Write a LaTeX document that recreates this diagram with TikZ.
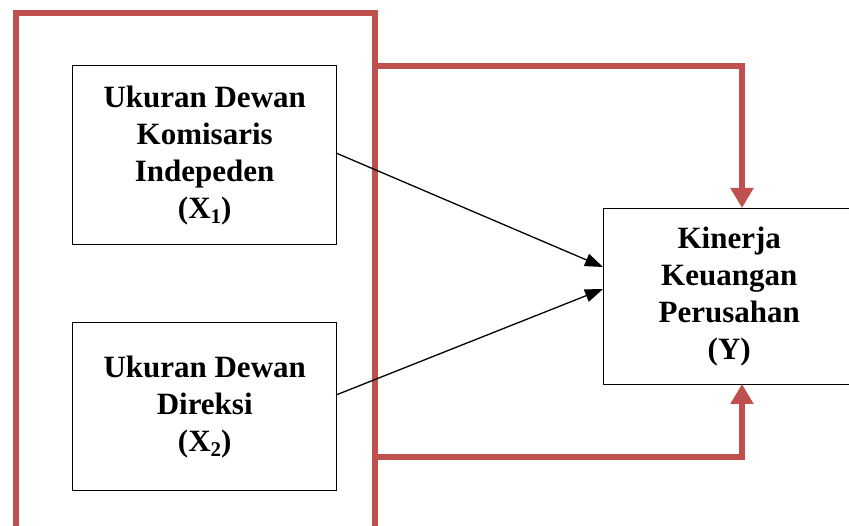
\documentclass[tikz,border=0pt]{standalone}
\usepackage{fontspec}
\setmainfont{Liberation Serif}
\usetikzlibrary{arrows.meta}
\definecolor{frred}{HTML}{C0504D}
\tikzset{
  varbox/.style={draw=black, line width=1.4pt, fill=white, align=center,
    font=\fontsize{31}{37}\selectfont\bfseries, inner sep=0pt, anchor=north west},
  redline/.style={draw=frred, line width=6pt},
  redarrow/.style={redline, -{Triangle[length=20pt,width=22pt]}},
  blackarrow/.style={draw=black, line width=1.3pt, -{Triangle[length=18pt,width=13pt]}}
}
\newcommand{\subnum}[1]{\raisebox{-0.18em}{\fontsize{21}{21}\selectfont #1}}
\begin{document}
\begin{tikzpicture}[x=1pt,y=-1pt]
\useasboundingbox (0,0) rectangle (849,526);
% red frame
\draw[redline] (16,530) -- (16,13) -- (375,13) -- (375,530);
% boxes
\node[varbox, minimum width=264pt, minimum height=179pt] (x1) at (72,65)
  {Ukuran Dewan\\Komisaris\\Indepeden\\(X\subnum{1})};
\node[varbox, minimum width=264pt, minimum height=168pt] (x2) at (72,322)
  {Ukuran Dewan\\Direksi\\(X\subnum{2})};
\node[varbox, minimum width=251pt, minimum height=176pt, text width=245pt, align=center] (y) at (603,208)
  {Kinerja\\Keuangan\\Perusahan\\(Y)};
% red connectors
\coordinate (ftop) at (375,66);
\coordinate (fbot) at (375,457);
\coordinate (ytopin) at (742,208);
\coordinate (ybotin) at (742,384);
\draw[redarrow] (ftop) -- (742,66) -- (ytopin);
\draw[redarrow] (fbot) -- (742,457) -- (ybotin);
% black arrows
\coordinate (x1out) at (336,153);
\coordinate (x2out) at (336,395);
\coordinate (yin1) at (603,267);
\coordinate (yin2) at (603,289);
\draw[blackarrow] (x1out) -- (yin1);
\draw[blackarrow] (x2out) -- (yin2);
\end{tikzpicture}
\end{document}
